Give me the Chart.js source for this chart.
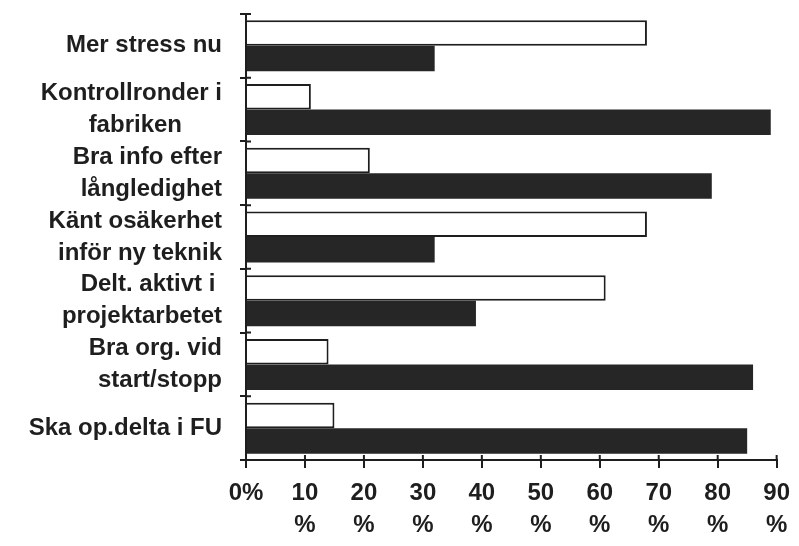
<!DOCTYPE html>
<html>
<head>
<meta charset="utf-8">
<script src="https://cdn.jsdelivr.net/npm/chart.js@4/dist/chart.umd.min.js"></script>
<style>
  html, body { margin: 0; padding: 0; background: #fff; }
  #wrap { width: 799px; height: 546px; }
</style>
</head>
<body>
<div id="wrap"><canvas id="chart" width="799" height="546"></canvas></div>
<script>
// Categories (multi-line labels as in the original)
const categories = [
    ["Mer stress nu"],
    ["Kontrollronder i", "fabriken      "],
    ["Bra info efter", "långledighet"],
    ["Känt osäkerhet", "inför ny teknik"],
    ["Delt. aktivt i ", "projektarbetet"],
    ["Bra org. vid", "start/stopp"],
    ["Ska op.delta i FU"]
];
// White (outlined) bars and black bars, in percent
const whiteValues = [68, 11, 21, 68, 61, 14, 15];
const blackValues = [32, 89, 79, 32, 39, 86, 85];
// x axis ticks
const xMin = 0, xMax = 90, xStep = 10;

const ink = "#1e1e1e";
const labelFont = { family: "'Liberation Sans', Arial, Helvetica, sans-serif", size: 24, weight: "bold", lineHeight: 1.33 };

// short tick marks on the inner side of both axes
const crossTicks = {
    id: "crossTicks",
    afterDraw(chart) {
        const { ctx, chartArea, scales: { x, y } } = chart;
        ctx.save();
        ctx.strokeStyle = ink;
        ctx.lineWidth = 2;
        ctx.beginPath();
        x.ticks.forEach((t, i) => {
            const px = x.getPixelForTick(i);
            ctx.moveTo(px, chartArea.bottom);
            ctx.lineTo(px, chartArea.bottom - 5);
        });
        for (let i = 0; i <= categories.length; i++) {
            const py = y.getPixelForValue(i - 0.5);
            ctx.moveTo(chartArea.left, py);
            ctx.lineTo(chartArea.left + 5, py);
        }
        ctx.stroke();
        ctx.restore();
    }
};

const ctx = document.getElementById("chart").getContext("2d");
new Chart(ctx, {
    type: "bar",
    data: {
        labels: categories,
        datasets: [{
            data: whiteValues,
            backgroundColor: "#fff",
            borderColor: ink,
            borderWidth: 2,
            barPercentage: 1.0,
            categoryPercentage: 0.8
        }, {
            data: blackValues,
            backgroundColor: "#262626",
            borderWidth: 0,
            barPercentage: 1.0,
            categoryPercentage: 0.8
        }]
    },
    options: {
        indexAxis: "y",
        responsive: false,
        animation: false,
        layout: { padding: { top: 14, right: 21, left: 0, bottom: 0 } },
        plugins: {
            legend: { display: false },
            tooltip: { enabled: false }
        },
        scales: {
            x: {
                min: xMin,
                max: xMax,
                ticks: {
                    stepSize: xStep,
                    color: ink,
                    font: labelFont,
                    padding: 9,
                    maxRotation: 0,
                    autoSkip: false,
                    callback: (v) => v === 0 ? "0%" : [String(v), "%"]
                },
                grid: { drawOnChartArea: false, tickLength: 8, color: ink, lineWidth: 2 },
                border: { color: ink, width: 2 },
                afterFit: (scale) => { scale.height = 86; }
            },
            y: {
                ticks: {
                    color: ink,
                    font: labelFont,
                    padding: 18,
                    autoSkip: false
                },
                grid: { drawOnChartArea: false, offset: true, tickLength: 6, color: ink, lineWidth: 2 },
                border: { color: ink, width: 2 },
                afterFit: (scale) => {
                    scale.width = 246;
                    scale.paddingTop = 0;
                    scale.paddingBottom = 0;
                }
            }
        }
    },
    plugins: [crossTicks]
});
</script>
</body>
</html>
